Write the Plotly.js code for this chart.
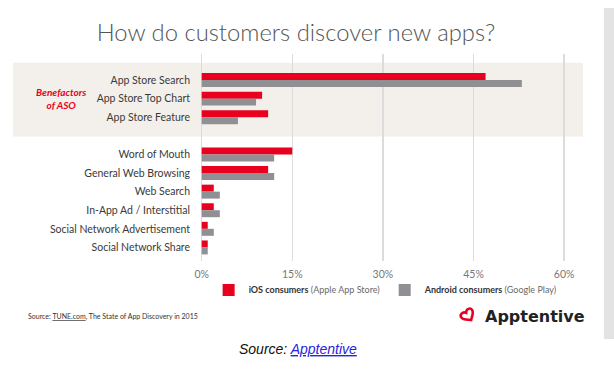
<!DOCTYPE html>
<html>
<head>
<meta charset="utf-8">
<script src="https://cdn.plot.ly/plotly-3.0.1.min.js"></script>
<style>html,body{margin:0;padding:0;background:#fff;}#chart{width:614px;height:371px;}</style>
</head>
<body>
<div id="chart"></div>
<script>
// ---- data ----
const categories = [
  'App Store Search', 'App Store Top Chart', 'App Store Feature',
  'Word of Mouth', 'General Web Browsing', 'Web Search',
  'In-App Ad / Interstitial', 'Social Network Advertisement', 'Social Network Share'
];
const iosValues = [47, 10, 11, 15, 11, 2, 2, 1, 1];
const androidValues = [53, 9, 6, 12, 12, 3, 3, 2, 1];
const xTickValues = [0, 15, 30, 45, 60];
const asoGroupSize = 3; // first three categories are "Benefactors of ASO"

// slot for each category: one empty slot after the ASO group
const slots = categories.map((c, i) => i < asoGroupSize ? i : i + 1);

const RED = '#e8001e';
const GRAY = '#8f8f94';

// heart logo outline (pixel path, rotated)
function heartPath(scale, angleDeg) {
  const pts = [[0,-5],[-2,-3],[-6,-1],[-6,2],[-6,5],[-2,6],[0,3],[2,6],[6,5],[6,2],[6,-1],[2,-3],[0,-5]];
  const a = angleDeg * Math.PI / 180, c = Math.cos(a), s = Math.sin(a);
  const r = pts.map(([x, y]) => [(x * c - y * s) * scale, (x * s + y * c) * scale].map(v => v.toFixed(2)));
  return `M${r[0][0]},${r[0][1]} C${r[1]} ${r[2]} ${r[3]} C${r[4]} ${r[5]} ${r[6]} C${r[7]} ${r[8]} ${r[9]} C${r[10]} ${r[11]} ${r[12]} Z`;
}

const traces = [
  {
    type: 'bar', orientation: 'h', name: '<b>iOS consumers</b> <span style="color:#6a6a6a">(Apple App Store)</span>',
    y: slots, x: iosValues, marker: { color: RED }, hoverinfo: 'x+name'
  },
  {
    type: 'bar', orientation: 'h', name: '<b>Android consumers</b> <span style="color:#6a6a6a">(Google Play)</span>',
    y: slots, x: androidValues, marker: { color: GRAY }, hoverinfo: 'x+name'
  }
];

const layout = {
  width: 614, height: 371,
  margin: { l: 196, r: 31, t: 54, b: 110 },
  paper_bgcolor: '#ffffff',
  plot_bgcolor: 'rgba(0,0,0,0)',
  barmode: 'group', bargap: 0.25, bargroupgap: 0,
  font: { family: 'Lato, sans-serif', color: '#333' },
  title: {
    text: 'How do customers discover new apps?',
    font: { family: 'Lato, sans-serif', size: 23.8, color: '#555555', weight: 300 },
    xref: 'container', x: 0.482, xanchor: 'center',
    yref: 'container', y: 0.911, yanchor: 'middle'
  },
  xaxis: {
    range: [-0.944, 63.13], tickvals: xTickValues,
    ticktext: xTickValues.map(v => v + '%'),
    showgrid: true, gridcolor: '#dcdcdc', gridwidth: 1.5, zeroline: false,
    showline: false, ticks: '', ticklabelstandoff: 5,
    tickfont: { size: 10.5, color: '#777' }, fixedrange: true
  },
  yaxis: {
    range: [9.73, -1.4], tickvals: slots, ticktext: categories,
    showgrid: false, zeroline: false, showline: false, ticks: '',
    ticklabelstandoff: 5,
    tickfont: { size: 10.5, color: '#3a3a3a' }, fixedrange: true
  },
  showlegend: true,
  legend: {
    orientation: 'h', x: 0.49, xanchor: 'center', y: -0.14, yanchor: 'middle',
    font: { size: 9, color: '#333' }, itemwidth: 30, bgcolor: 'rgba(0,0,0,0)'
  },
  shapes: [
    { type: 'rect', layer: 'below', xref: 'paper', yref: 'y', x0: -0.473, x1: 1.0, y0: -0.93, y1: 3.04,
      fillcolor: '#f3f0eb', line: { width: 0 } },
    { type: 'rect', layer: 'below', xref: 'paper', yref: 'paper', x0: 1.054, x1: 1.09, y0: -0.377, y1: 1.222,
      fillcolor: '#e3e3e3', line: { width: 0 } },
    { type: 'path', layer: 'above', xref: 'paper', yref: 'paper',
      xsizemode: 'pixel', ysizemode: 'pixel', xanchor: (468 - 196) / 387, yanchor: (261 - 315.5) / 207,
      path: heartPath(1.1, 35), line: { color: RED, width: 2.6 }, fillcolor: 'rgba(0,0,0,0)' }
  ],
  annotations: [
    { xref: 'paper', yref: 'y', x: -0.35, y: 1, xanchor: 'center', yanchor: 'middle', showarrow: false,
      text: '<b><i>Benefactors<br>of ASO</i></b>', font: { size: 10, color: RED, family: 'Lato, sans-serif' } },
    { xref: 'paper', yref: 'paper', x: -0.439, y: -0.27, xanchor: 'left', yanchor: 'middle', showarrow: false,
      text: 'Source: <span style="text-decoration:underline">TUNE.com</span>, The State of App Discovery in 2015',
      font: { size: 7, color: '#333', family: 'Lato, sans-serif' } },
    { xref: 'paper', yref: 'paper', x: (483 - 196) / 387, y: -0.267, xanchor: 'left', yanchor: 'middle', showarrow: false,
      text: '<b>Apptentive</b>', font: { size: 16, color: '#222', family: 'DejaVu Sans, sans-serif' } },
    { xref: 'paper', yref: 'paper', x: (298 - 196) / 387, y: -0.425, xanchor: 'center', yanchor: 'middle', showarrow: false,
      text: '<i>Source: </i><i><span style="text-decoration:underline;fill:#2525dd">Apptentive</span></i>',
      font: { size: 14, color: '#111', family: 'Liberation Sans, Arial, sans-serif' } }
  ]
};

Plotly.newPlot('chart', traces, layout, { displayModeBar: false, staticPlot: true });
</script>
</body>
</html>
